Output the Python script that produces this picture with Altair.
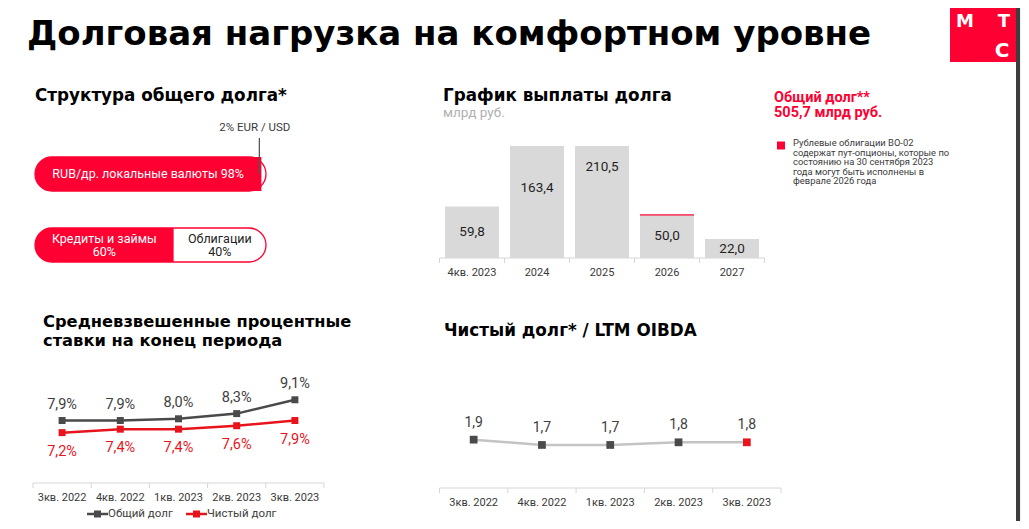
import altair as alt
import pandas as pd

OFF = 8  # page margin: chart coordinate = page coordinate - 8


def P(v):
    return v - OFF


RED = "#ff0032"
RED_LINE = "#e8141c"
GRAY_DK = "#4a4a4a"
GRAY_BAR = "#d9d9d9"
GRAY_LINE = "#c4c4c4"
AXIS_GRAY = "#d6d6d6"
TEXT = "#1f1f1f"
TEXT2 = "#3a3a3a"
TITLE_FONT = "DejaVu Sans"
BODY_FONT = "Roboto"
SEC = 16.8  # section title size

# ---------------- data ----------------
title_text = "Долговая нагрузка на комфортном уровне"

structure_title = "Структура общего долга*"
row_order = ["currency", "instrument"]
currency_segments = ["RUB/др. локальные валюты", "EUR / USD"]
currency_share = [98, 2]
instrument_segments = ["Кредиты и займы", "Облигации"]
instrument_share = [60, 40]

repay_title = "График выплаты долга"
repay_unit = "млрд руб."
repay_periods = ["4кв. 2023", "2024", "2025", "2026", "2027"]
repay_values = [59.8, 163.4, 210.5, 50.0, 22.0]
repay_put_option = [False, False, False, True, False]

total_debt_title = "Общий долг**"
total_debt_value = "505,7 млрд руб."
footnote_text = ("Рублевые облигации ВО-02\nсодержат пут-опционы, которые по\n"
                 "состоянию на 30 сентября 2023\nгода могут быть исполнены в\nфеврале 2026 года")

rates_title_lines = ["Средневзвешенные процентные", "ставки на конец периода"]
quarters = ["3кв. 2022", "4кв. 2022", "1кв. 2023", "2кв. 2023", "3кв. 2023"]
rate_series = ["Общий долг", "Чистый долг"]
rate_total = [7.9, 7.9, 8.0, 8.3, 9.1]
rate_net = [7.2, 7.4, 7.4, 7.6, 7.9]

leverage_title = "Чистый долг* / LTM OIBDA"
leverage = [1.9, 1.7, 1.7, 1.8, 1.8]

# ---------------- helpers ----------------
layers = []


def static_text(text, x, y, size, color=TEXT, font=BODY_FONT, weight="normal",
                align="left", baseline="alphabetic", line_height=None):
    kw = dict(align=align, baseline=baseline, font=font, fontSize=size,
              fontWeight=weight, color=color)
    if line_height:
        kw.update(lineBreak="\n", lineHeight=line_height)
    return alt.Chart(pd.DataFrame({"t": [text]})).mark_text(**kw).encode(
        x=alt.value(P(x)), y=alt.value(P(y)), text="t:N")


def cat_axis(cats, x0, x1, y, label_y):
    sb = alt.Scale(type="band", domain=cats, range=[P(x0), P(x1)],
                   paddingInner=0, paddingOuter=0)
    df = pd.DataFrame({"c": cats})
    out = [
        alt.Chart(df.head(1)).mark_rule(color=AXIS_GRAY, strokeWidth=1).encode(
            x=alt.value(P(x0)), x2=alt.value(P(x1)), y=alt.value(P(y))),
        alt.Chart(df).mark_rule(color=AXIS_GRAY, strokeWidth=1).encode(
            x=alt.X("c:N", scale=sb, bandPosition=0, axis=None),
            y=alt.value(P(y)), y2=alt.value(P(y + 5))),
        alt.Chart(df.tail(1)).mark_rule(color=AXIS_GRAY, strokeWidth=1).encode(
            x=alt.X("c:N", scale=sb, bandPosition=1, axis=None),
            y=alt.value(P(y)), y2=alt.value(P(y + 5))),
        alt.Chart(df).mark_text(font=BODY_FONT, fontSize=11, color=TEXT2,
                                baseline="middle").encode(
            x=alt.X("c:N", scale=sb, bandPosition=0.5, axis=None),
            y=alt.value(P(label_y)), text="c:N"),
    ]
    return out


fmt1 = "replace(format(datum.value, '.1f'), '.', ',')"

# ---------------- header ----------------
layers.append(static_text(title_text, 27, 45, 34, color="#000000",
                          font=TITLE_FONT, weight="bold"))
layers.append(alt.Chart(pd.DataFrame({"a": [0]})).mark_rect(color=RED).encode(
    x=alt.value(P(950)), x2=alt.value(P(1016)), y=alt.value(0), y2=alt.value(P(62))))
layers.append(static_text("М", 965, 27, 18, color="white", font=TITLE_FONT,
                          weight="bold", align="center"))
layers.append(static_text("Т", 1004, 27, 18, color="white", font=TITLE_FONT,
                          weight="bold", align="center"))
layers.append(static_text("С", 1002, 57, 20, color="white", font=TITLE_FONT,
                          weight="bold", align="center"))
# scrollbar strip of the viewer
layers.append(alt.Chart(pd.DataFrame({"a": [0]})).mark_rect(color="#3d3d3d").encode(
    x=alt.value(P(1016)), x2=alt.value(P(1020)), y=alt.value(0), y2=alt.value(P(529))))
layers.append(alt.Chart(pd.DataFrame({"a": [0]})).mark_rect(color="#eeeeee").encode(
    x=alt.value(P(1020)), x2=alt.value(P(1029)), y=alt.value(0), y2=alt.value(P(529))))

# ---------------- structure of debt ----------------
layers.append(static_text(structure_title, 35, 101, SEC, color="#000000",
                          font=TITLE_FONT, weight="bold"))


def segments(row, names, shares):
    rows, s = [], 0
    for i, (n, v) in enumerate(zip(names, shares)):
        rows.append({"row": row, "seg": n, "share": v, "start": s, "end": s + v,
                     "mid": s + v / 2, "idx": i})
        s += v
    return rows


struct = pd.DataFrame(segments("currency", currency_segments, currency_share)
                      + segments("instrument", instrument_segments, instrument_share))
labels, kind, tcol = [], [], []
for _, r in struct.iterrows():
    if r["row"] == "currency":
        if r["idx"] == 0:
            labels.append(f"{r['seg']} {r['share']}%")
            kind.append("single")
        else:
            labels.append(f"{r['share']}% {r['seg']}")
            kind.append("outside")
    else:
        labels.append(f"{r['seg']}\n{r['share']}%")
        kind.append("double")
    tcol.append("white" if r["idx"] == 0 else TEXT)
struct["label"] = labels
struct["kind"] = kind
struct["tcolor"] = tcol
pill_rows = struct.groupby("row", as_index=False).agg(start=("start", "min"), end=("end", "max"))

sx = alt.Scale(domain=[0, 100], range=[P(35), P(266)], nice=False, zero=False)
sy_band = alt.Scale(type="band", domain=row_order, range=[P(157), P(262)],
                    paddingInner=0.521, paddingOuter=0)
sy_pt = alt.Scale(type="point", domain=row_order, range=[P(174), P(245)], padding=0)

layers.append(alt.Chart(struct[struct["idx"] == 0]).mark_bar(
    fill=RED, cornerRadiusTopLeft=17, cornerRadiusBottomLeft=17).encode(
    x=alt.X("start:Q", scale=sx, axis=None), x2="end:Q",
    y=alt.Y("row:N", scale=sy_band, axis=None)))
layers.append(alt.Chart(pill_rows).mark_bar(
    fillOpacity=0, stroke=RED, strokeWidth=1.3, cornerRadius=17).encode(
    x=alt.X("start:Q", scale=sx, axis=None), x2="end:Q",
    y=alt.Y("row:N", scale=sy_band, axis=None)))
for k, dy in [("single", 0), ("double", -6.5)]:
    layers.append(alt.Chart(struct[struct["kind"] == k]).mark_text(
        font=BODY_FONT, fontSize=12.5, lineBreak="\n", lineHeight=13.5,
        baseline="middle", dy=dy).encode(
        x=alt.X("mid:Q", scale=sx, axis=None), y=alt.Y("row:N", scale=sy_pt, axis=None),
        text="label:N", color=alt.Color("tcolor:N", scale=None)))
layers.append(alt.Chart(struct[struct["kind"] == "outside"]).mark_text(
    font=BODY_FONT, fontSize=11.5, color=TEXT2, align="right", dx=29, dy=-46,
    baseline="middle").encode(
    x=alt.X("start:Q", scale=sx, axis=None), y=alt.Y("row:N", scale=sy_pt, axis=None),
    text="label:N"))
layers.append(alt.Chart(struct[struct["kind"] == "outside"]).mark_rule(
    color="#555555", strokeWidth=1.3, xOffset=-2).encode(
    x=alt.X("start:Q", scale=sx, axis=None), y=alt.Y("row:N", scale=sy_pt, axis=None),
    y2=alt.value(P(138))))

# ---------------- repayment schedule ----------------
layers.append(static_text(repay_title, 443, 101, SEC, color="#000000",
                          font=TITLE_FONT, weight="bold"))
layers.append(static_text(repay_unit, 443, 116.5, 13.5, color="#b0b0b0"))

repay = pd.DataFrame({"period": repay_periods, "value": repay_values,
                      "put": repay_put_option})
bx = alt.Scale(type="band", domain=repay_periods, range=[P(439.5), P(764.5)],
               paddingInner=0.169, paddingOuter=0.0845)
by = alt.Scale(domain=[0, 130], range=[P(258), P(146)], clamp=True, nice=False, zero=False)
by_free = alt.Scale(domain=[0, 130], range=[P(258), P(146)], nice=False, zero=False)

layers.append(alt.Chart(repay).mark_bar(color=GRAY_BAR).encode(
    x=alt.X("period:N", scale=bx, axis=None),
    y=alt.Y("value:Q", scale=by, axis=None)))
layers.append(alt.Chart(repay).transform_filter("datum.put").mark_tick(
    color=RED, thickness=1.6, size=54, orient="horizontal").encode(
    x=alt.X("period:N", scale=bx, axis=None),
    y=alt.Y("value:Q", scale=by, axis=None)))
layers.append(alt.Chart(repay).transform_calculate(
    half="datum.value / 2", lbl=fmt1).mark_text(
    font=BODY_FONT, fontSize=13.5, color=TEXT, baseline="middle").encode(
    x=alt.X("period:N", scale=bx, bandPosition=0.5, axis=None),
    y=alt.Y("half:Q", scale=by_free, axis=None), text="lbl:N"))
layers += cat_axis(repay_periods, 439.5, 764.5, 258, 273)

# ---------------- total debt note ----------------
layers.append(static_text(total_debt_title, 774, 101.5, 14.5, color=RED, weight="bold"))
layers.append(static_text(total_debt_value, 774, 116.5, 14.5, color=RED, weight="bold"))
layers.append(alt.Chart(pd.DataFrame({"a": [0]})).mark_square(
    color=RED, size=64, opacity=1).encode(x=alt.value(P(781)), y=alt.value(P(145.5))))
layers.append(static_text(footnote_text, 793, 146, 9.4, color=TEXT2, line_height=9.6))

# ---------------- weighted rates ----------------
layers.append(static_text(rates_title_lines[0], 43, 326.5, 16.3, color="#000000",
                          font=TITLE_FONT, weight="bold"))
layers.append(static_text(rates_title_lines[1], 43, 345.5, 16.3, color="#000000",
                          font=TITLE_FONT, weight="bold"))
rates = pd.DataFrame({
    "quarter": quarters * 2,
    "series": [rate_series[0]] * len(quarters) + [rate_series[1]] * len(quarters),
    "value": rate_total + rate_net,
})
rx = alt.Scale(type="point", domain=quarters, range=[P(33), P(324)], padding=0.5)
ry = alt.Scale(domain=[7, 10], range=[P(436.1), P(384.2)], nice=False, zero=False)
cs = alt.Scale(domain=rate_series, range=[GRAY_DK, RED_LINE])
enc = dict(x=alt.X("quarter:N", scale=rx, axis=None),
           y=alt.Y("value:Q", scale=ry, axis=None))
layers.append(alt.Chart(rates).mark_line(strokeWidth=2.5).encode(
    color=alt.Color("series:N", scale=cs, legend=None), **enc))
layers.append(alt.Chart(rates).mark_square(size=49, opacity=1).encode(
    color=alt.Color("series:N", scale=cs, legend=None), **enc))
for s, dy, col in [(rate_series[0], -16, "#404040"), (rate_series[1], 19, RED_LINE)]:
    layers.append(alt.Chart(rates).transform_filter(
        alt.datum.series == s).transform_calculate(
        lbl=fmt1 + " + '%'").mark_text(
        font=BODY_FONT, fontSize=14.5, color=col, dy=dy, baseline="middle").encode(
        text="lbl:N", **enc))
layers += cat_axis(quarters, 33, 324, 483, 498)

LEG_PATH = ("M-1,-0.12L1,-0.12L1,0.12L-1,0.12Z "
            "M-0.333,-0.333L0.333,-0.333L0.333,0.333L-0.333,0.333Z")
LEG_Y = 514
leg_df = pd.DataFrame({"series": rate_series})
leg_scale = alt.Scale(type="band", domain=rate_series, range=[P(87), P(285)],
                      paddingInner=0, paddingOuter=0)
layers.append(alt.Chart(leg_df).mark_point(
    shape=LEG_PATH, size=441, filled=True, opacity=1, xOffset=10.5).encode(
    x=alt.X("series:N", scale=leg_scale, bandPosition=0, axis=None),
    y=alt.value(P(LEG_Y)), color=alt.Color("series:N", scale=cs, legend=None)))
layers.append(alt.Chart(leg_df).mark_text(
    font=BODY_FONT, fontSize=11.5, color="#404040", align="left", dx=21,
    baseline="middle").encode(
    x=alt.X("series:N", scale=leg_scale, bandPosition=0, axis=None),
    y=alt.value(P(LEG_Y)), text="series:N"))

# ---------------- net debt / OIBDA ----------------
layers.append(static_text(leverage_title, 444, 336, SEC, color="#000000",
                          font=TITLE_FONT, weight="bold"))
lev = pd.DataFrame({"quarter": quarters, "value": leverage})
nx = alt.Scale(type="point", domain=quarters, range=[P(439.5), P(781)], padding=0.5)
ny = alt.Scale(domain=[0, 2], range=[P(490), P(437)], nice=False, zero=False)
nenc = dict(x=alt.X("quarter:N", scale=nx, axis=None),
            y=alt.Y("value:Q", scale=ny, axis=None))
layers.append(alt.Chart(lev).mark_line(color=GRAY_LINE, strokeWidth=2.5).encode(**nenc))
layers.append(alt.Chart(lev).mark_square(size=60, opacity=1).encode(
    color=alt.condition(alt.datum.quarter == quarters[-1],
                        alt.value(RED_LINE), alt.value(GRAY_DK)), **nenc))
layers.append(alt.Chart(lev).transform_calculate(lbl=fmt1).mark_text(
    font=BODY_FONT, fontSize=14, color="#404040", dy=-17, baseline="middle").encode(
    text="lbl:N", **nenc))
layers += cat_axis(quarters, 439.5, 781, 488, 503)

chart = alt.layer(*layers).resolve_scale(
    x="independent", y="independent", color="independent"
).properties(
    width=1013, height=513, padding=0,
    autosize=alt.AutoSizeParams(type="none"),
    background="white",
).configure_view(stroke=None)

chart.save("out.html", embed_options={"renderer": "svg", "actions": False})
